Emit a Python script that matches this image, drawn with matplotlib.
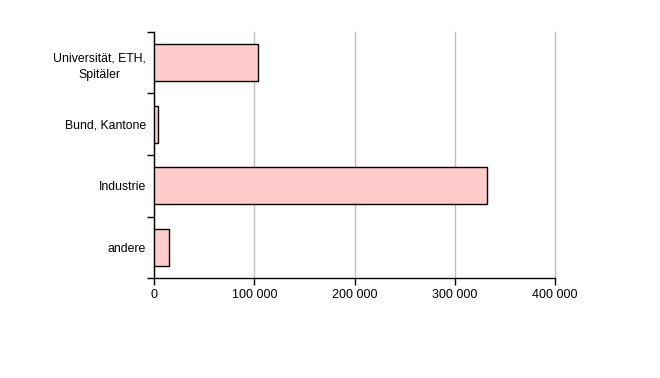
import numpy as np
import matplotlib
matplotlib.use("Agg")
import matplotlib.pyplot as plt
from matplotlib.ticker import FuncFormatter

categories = ["Universität, ETH,\nSpitäler", "Bund, Kantone", "Industrie", "andere"]
values = [104000, 4000, 332000, 14500]
xticks = [0, 100000, 200000, 300000, 400000]

plt.rcParams['font.family'] = ['Liberation Sans', 'DejaVu Sans']

fig = plt.figure(figsize=(6.6, 3.78), dpi=100)
ax = fig.add_axes([154 / 660, 1 - 278.3 / 378, 401 / 660, 246.6 / 378])

y = np.arange(len(categories))
ax.barh(y, values, height=0.6, color="#FFCCCC", edgecolor="black", linewidth=1, zorder=3)

ax.set_ylim(len(categories) - 0.5, -0.5)
ax.set_xlim(0, 400000)
ax.set_xticks(xticks)
ax.xaxis.set_major_formatter(FuncFormatter(lambda v, p: f"{int(v):,}".replace(",", " ")))
ax.grid(axis="x", color="#C0C0C0", linewidth=1, zorder=0)
for gl in ax.get_xgridlines():
    gl.set_clip_on(False)

ax.set_yticks(y)
ax.set_yticklabels(categories, fontsize=8.8, linespacing=1.6)
for lbl in ax.get_yticklabels():
    lbl.set_multialignment("center")
ax.set_yticks(np.arange(len(categories) + 1) - 0.5, minor=True)
ax.tick_params(axis="y", which="major", length=0, pad=6)
ax.tick_params(axis="y", which="minor", length=5, width=1, color="black")
ax.tick_params(axis="x", length=5, width=1, labelsize=9, pad=3)

for s in ["top", "right"]:
    ax.spines[s].set_visible(False)
for s in ["left", "bottom"]:
    ax.spines[s].set_linewidth(1)
    ax.spines[s].set_color("black")

fig.savefig("out.png", dpi=100)
